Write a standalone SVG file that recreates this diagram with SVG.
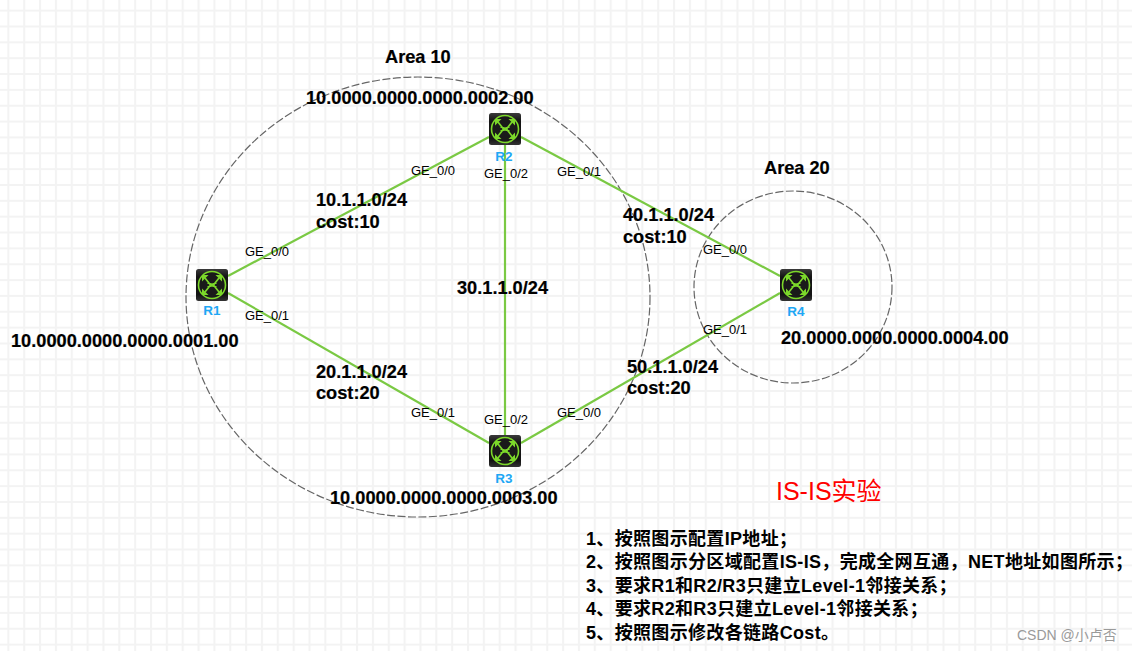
<svg xmlns="http://www.w3.org/2000/svg" width="1132" height="651" viewBox="0 0 1132 651">
<style>
text{font-family:"Liberation Sans","Noto Sans CJK SC",sans-serif}
.b{font-size:18.2px;font-weight:bold;fill:#000;stroke:#000;stroke-width:.2}
.p{font-size:13px;fill:#000}
.n{font-size:13.5px;font-weight:bold;fill:#1ea7f5;text-anchor:middle}
.t{font-size:18px;font-weight:bold;fill:#000;letter-spacing:.33px}
.area{fill:none;stroke:#666;stroke-width:1.2;stroke-dasharray:8 2.5}
.link{stroke:#7ac943;stroke-width:2.2;fill:none}
.grid{stroke:#f3f3f3;stroke-width:2;fill:none}
</style>
<defs>
<pattern id="gr" width="15.85" height="15.85" patternUnits="userSpaceOnUse" x="0.4" y="2.7">
<path class="grid" d="M8 0V15.85M0 8H15.85"/>
</pattern>
<linearGradient id="rg" x1="0" y1="0" x2="0" y2="1">
<stop offset="0" stop-color="#3a3a3a"/><stop offset=".25" stop-color="#141414"/><stop offset=".8" stop-color="#141414"/><stop offset="1" stop-color="#333"/>
</linearGradient>
<g id="rt">
<rect x="-16" y="-16" width="32" height="32" rx="2.5" fill="url(#rg)"/>
<circle r="13.500" fill="#1a1a1a" stroke="#7cd82a" stroke-width="1.6"/>
<path d="M-7-7L-1.500 0L-7 7M7-7L1.500 0L7 7M-4.500-2L0-.8L4.500-2M-4.500 2L0 .8L4.500 2" stroke="#7cd82a" stroke-width="1.700" fill="none"/>
<path d="M-10-10h6.500l-6.500 6.500zM10-10h-6.500l6.500 6.500zM-10 10h6.500l-6.500-6.500zM10 10h-6.500l6.500-6.500z" fill="#7cd82a"/>
</g>
</defs>
<rect width="1132" height="651" fill="#fff"/>
<rect width="1132" height="651" fill="url(#gr)"/>
<g id="areas">
<ellipse class="area" cx="418" cy="297" rx="232" ry="220"/>
<ellipse class="area" cx="793" cy="287" rx="99" ry="96"/>
</g>
<g id="connectors">
<line class="link" x1="228" y1="276" x2="489" y2="137"/>
<line class="link" x1="228" y1="293" x2="489" y2="443"/>
<line class="link" x1="505" y1="145" x2="505" y2="435"/>
<line class="link" x1="521" y1="137" x2="780" y2="276"/>
<line class="link" x1="521" y1="443" x2="780" y2="293"/>
</g>
<g id="R1"><use href="#rt" x="212" y="285"/><text class="n" x="212" y="315">R1</text></g>
<g id="R2"><use href="#rt" x="505" y="129"/><text class="n" x="504" y="161">R2</text></g>
<g id="R3"><use href="#rt" x="505" y="451"/><text class="n" x="504" y="483">R3</text></g>
<g id="R4"><use href="#rt" x="796" y="285"/><text class="n" x="796" y="316">R4</text></g>
<g id="labels">
<text class="p" x="245" y="256">GE_0/0</text>
<text class="p" x="245" y="320">GE_0/1</text>
<text class="p" x="411" y="175">GE_0/0</text>
<text class="p" x="484" y="178">GE_0/2</text>
<text class="p" x="557" y="176">GE_0/1</text>
<text class="p" x="703" y="254">GE_0/0</text>
<text class="p" x="703" y="334">GE_0/1</text>
<text class="p" x="411" y="417">GE_0/1</text>
<text class="p" x="484" y="424">GE_0/2</text>
<text class="p" x="557" y="417">GE_0/0</text>
<text class="b" x="385" y="63">Area 10</text>
<text class="b" x="764" y="174">Area 20</text>
<text class="b" x="306" y="104">10.0000.0000.0000.0002.00</text>
<text class="b" x="11" y="347">10.0000.0000.0000.0001.00</text>
<text class="b" x="330" y="504">10.0000.0000.0000.0003.00</text>
<text class="b" x="781" y="344">20.0000.0000.0000.0004.00</text>
<text class="b" x="316" y="206">10.1.1.0/24</text>
<text class="b" x="316" y="228">cost:10</text>
<text class="b" x="316" y="378">20.1.1.0/24</text>
<text class="b" x="316" y="399">cost:20</text>
<text class="b" x="457" y="294">30.1.1.0/24</text>
<text class="b" x="623" y="221">40.1.1.0/24</text>
<text class="b" x="623" y="243">cost:10</text>
<text class="b" x="627" y="373">50.1.1.0/24</text>
<text class="b" x="627" y="394">cost:20</text>
<text x="776" y="500" font-size="25" fill="#ff0000">IS-IS实验</text>
<text class="t" x="586" y="545">1、按照图示配置IP地址；</text>
<text class="t" x="586" y="568">2、按照图示分区域配置IS-IS，完成全网互通，NET地址如图所示；</text>
<text class="t" x="586" y="592">3、要求R1和R2/R3只建立Level-1邻接关系；</text>
<text class="t" x="586" y="615">4、要求R2和R3只建立Level-1邻接关系；</text>
<text class="t" x="586" y="639">5、按照图示修改各链路Cost。</text>
<text x="1017" y="640" font-size="14" fill="#9a9a9a">CSDN @小卢否</text>
</g>
</svg>
